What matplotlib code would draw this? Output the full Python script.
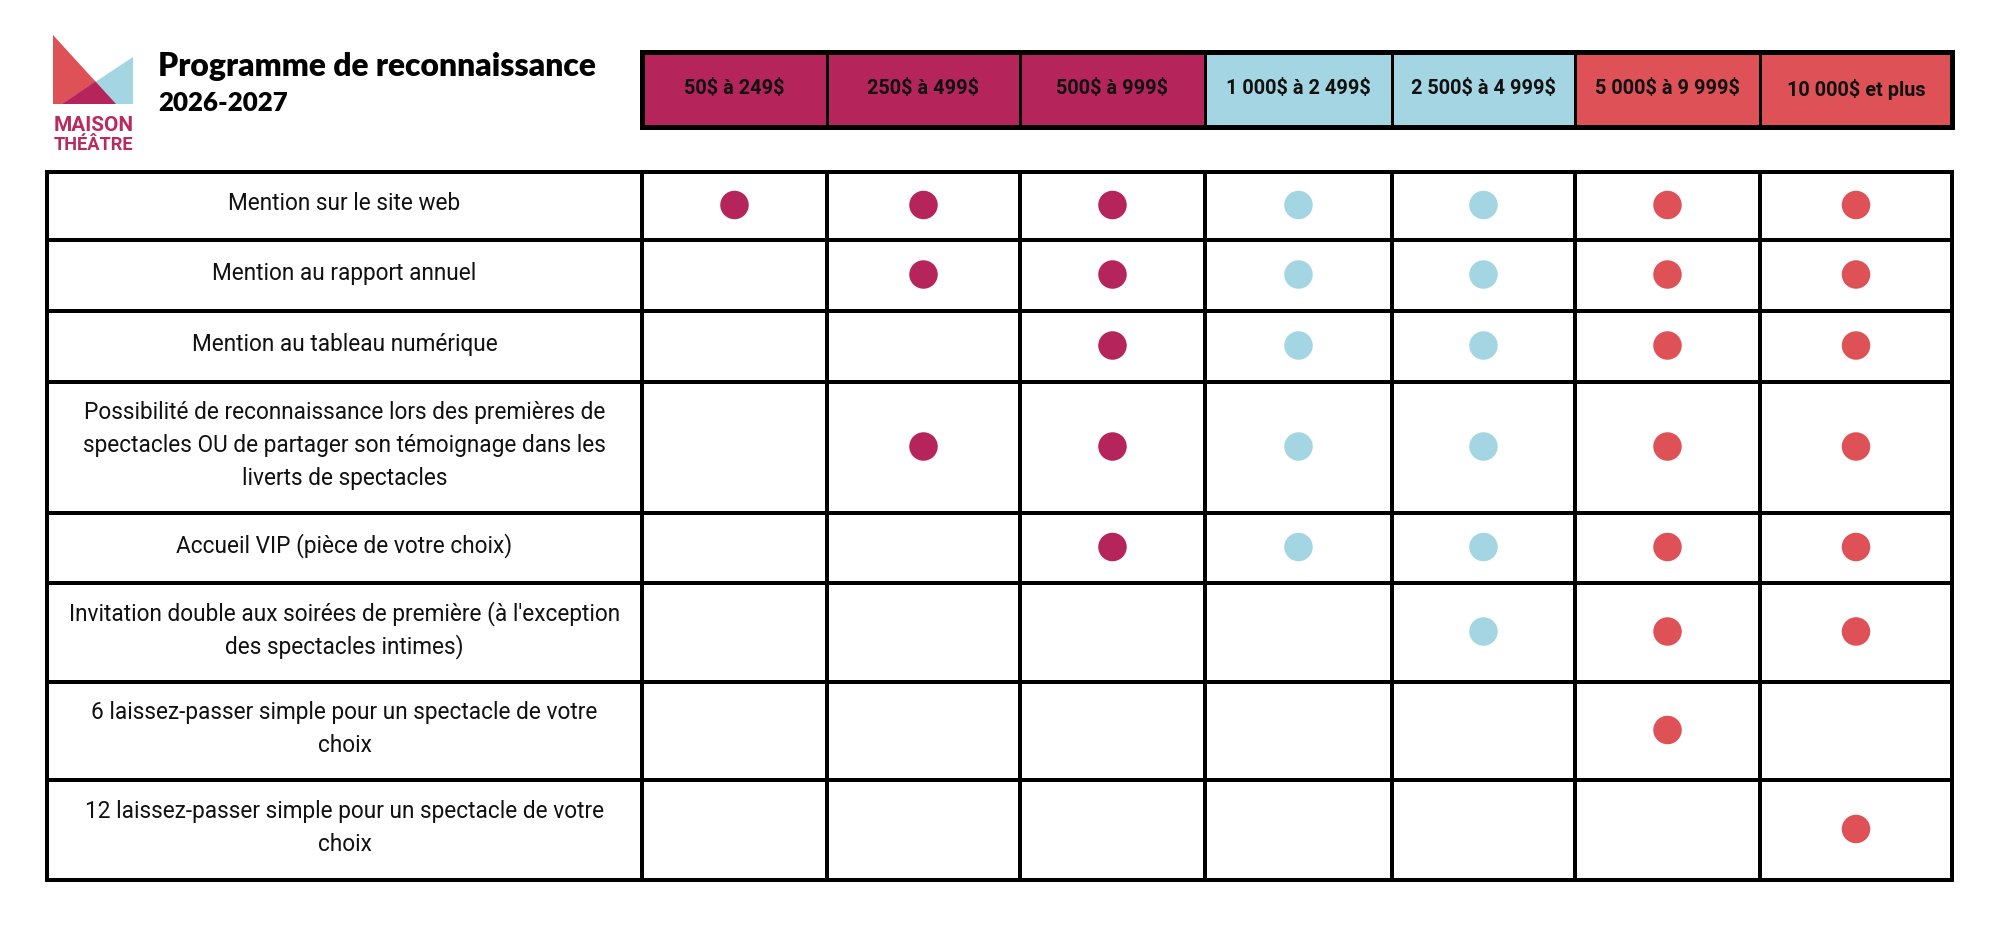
import matplotlib
matplotlib.use("Agg")
import matplotlib.pyplot as plt
from matplotlib import font_manager
from matplotlib.patches import Rectangle, Polygon

plt.rcParams["text.parse_math"] = False  # the labels use literal "$"

# ---- data -------------------------------------------------------------
title = "Programme de reconnaissance"
subtitle = "2026-2027"
logo_lines = ["MAISON", "THÉÂTRE"]

tiers = ["50$ à 249$", "250$ à 499$", "500$ à 999$", "1 000$ à 2 499$",
         "2 500$ à 4 999$", "5 000$ à 9 999$", "10 000$ et plus"]
tier_group = [0, 0, 0, 1, 1, 2, 2]

benefits = [
    "Mention sur le site web",
    "Mention au rapport annuel",
    "Mention au tableau numérique",
    "Possibilité de reconnaissance lors des premières de\n"
    "spectacles OU de partager son témoignage dans les\n"
    "liverts de spectacles",
    "Accueil VIP (pièce de votre choix)",
    "Invitation double aux soirées de première (à l'exception\n"
    "des spectacles intimes)",
    "6 laissez-passer simple pour un spectacle de votre\nchoix",
    "12 laissez-passer simple pour un spectacle de votre\nchoix",
]

included = [
    [1, 1, 1, 1, 1, 1, 1],
    [0, 1, 1, 1, 1, 1, 1],
    [0, 0, 1, 1, 1, 1, 1],
    [0, 1, 1, 1, 1, 1, 1],
    [0, 0, 1, 1, 1, 1, 1],
    [0, 0, 0, 0, 1, 1, 1],
    [0, 0, 0, 0, 0, 1, 0],
    [0, 0, 0, 0, 0, 0, 1],
]

# ---- style / layout (pixels) -----------------------------------------
group_colors = ["#B5245A", "#A3D5E2", "#DE5157"]
W, H = 1999, 933
col_edges = [642, 827, 1020, 1205, 1392, 1575, 1760, 1952]
label_left = 47
row_edges = [172, 240, 311, 382, 513, 583, 682, 780, 880]
head_top, head_bot = 52, 127
line_gap = 33
PX = 72 / 100  # points per pixel

names = {f.name for f in font_manager.fontManager.ttflist}


def pick(*fams):
    for f in fams:
        if f in names:
            return f
    return "DejaVu Sans"


body_font = pick("Liberation Sans Narrow", "Roboto", "Noto Sans")
title_font = pick("Lato", "Roboto", "Noto Sans")

fig = plt.figure(figsize=(W / 100, H / 100), dpi=100)
ax = fig.add_axes([0, 0, 1, 1])
ax.set_xlim(0, W)
ax.set_ylim(H, 0)
ax.axis("off")

# ---- logo --------------------------------------------------------------
ax.add_patch(Polygon([(53, 35), (53, 104), (116, 104)], closed=True,
                     fc=group_colors[2], ec="none"))
ax.add_patch(Polygon([(133, 57), (133, 104), (62, 104)], closed=True,
                     fc=group_colors[1], ec="none"))
ax.add_patch(Polygon([(62, 104), (116, 104), (95.5, 81.5)], closed=True,
                     fc=group_colors[0], ec="none"))
logo_txt = [ax.text(93.5, y, s, ha="center", va="baseline", fontsize=12,
                    family=body_font, weight="bold", color="#B82A60")
            for s, y in zip(logo_lines, [131, 150])]

# ---- title -------------------------------------------------------------
t1 = ax.text(158, 76, title, ha="left", va="baseline", fontsize=20,
             family=title_font, weight="heavy", color="black")
t2 = ax.text(158, 111, subtitle, ha="left", va="baseline", fontsize=16,
             family=title_font, weight="heavy", color="black")

# ---- header cells -----------------------------------------------------
head_txt = []
for i, lab in enumerate(tiers):
    x0, x1 = col_edges[i], col_edges[i + 1]
    ax.add_patch(Rectangle((x0, head_top), x1 - x0, head_bot - head_top,
                           fc=group_colors[tier_group[i]], ec="none"))
    head_txt.append(ax.text((x0 + x1) / 2, 89, lab, ha="center", va="center",
                            fontsize=11, family=body_font, weight="semibold",
                            color="#111111"))
for x in col_edges[1:-1]:
    ax.plot([x, x], [head_top, head_bot], color="black", lw=3 * PX,
            solid_capstyle="butt")
ax.add_patch(Rectangle((col_edges[0], head_top), col_edges[-1] - col_edges[0],
                       head_bot - head_top, fc="none", ec="black",
                       lw=5 * PX, joinstyle="miter"))

# ---- benefits table ----------------------------------------------------
body_txt = []
for r, text in enumerate(benefits):
    yc = (row_edges[r] + row_edges[r + 1]) / 2 - 2
    lines = text.split("\n")
    n = len(lines)
    for k, line in enumerate(lines):
        y = yc + (k - (n - 1) / 2) * line_gap
        body_txt.append(ax.text((label_left + col_edges[0]) / 2, y, line,
                                ha="center", va="center", fontsize=14,
                                family=body_font, color="#111111"))
    for c in range(len(tiers)):
        if included[r][c]:
            ax.scatter((col_edges[c] + col_edges[c + 1]) / 2,
                       (row_edges[r] + row_edges[r + 1]) / 2 - 1,
                       s=(28.5 * PX) ** 2, color=group_colors[tier_group[c]],
                       edgecolors="none", zorder=3)

for y in row_edges[1:-1]:
    ax.plot([label_left, col_edges[-1]], [y, y], color="black", lw=4 * PX,
            solid_capstyle="butt")
for x in col_edges[:-1]:
    ax.plot([x, x], [row_edges[0], row_edges[-1]], color="black", lw=4 * PX,
            solid_capstyle="butt")
ax.add_patch(Rectangle((label_left, row_edges[0]), col_edges[-1] - label_left,
                       row_edges[-1] - row_edges[0], fc="none", ec="black",
                       lw=4 * PX, joinstyle="miter"))

# ---- fit font sizes to the reference text widths ------------------------
fig.canvas.draw()
rend = fig.canvas.get_renderer()


def fit_group(texts, ref, target):
    w = ref.get_window_extent(rend).width
    k = target / w
    for t in texts:
        t.set_fontsize(t.get_fontsize() * k)


ref_body = [t for t in body_txt if t.get_text().startswith("Invitation")][0]
fit_group(body_txt, ref_body, 556)
fit_group(head_txt, head_txt[5], 143)
fit_group([t1], t1, 440)
fit_group([t2], t2, 130)
fit_group([logo_txt[0]], logo_txt[0], 80)
fit_group([logo_txt[1]], logo_txt[1], 80)

fig.savefig("out.png", dpi=100, facecolor="white")
